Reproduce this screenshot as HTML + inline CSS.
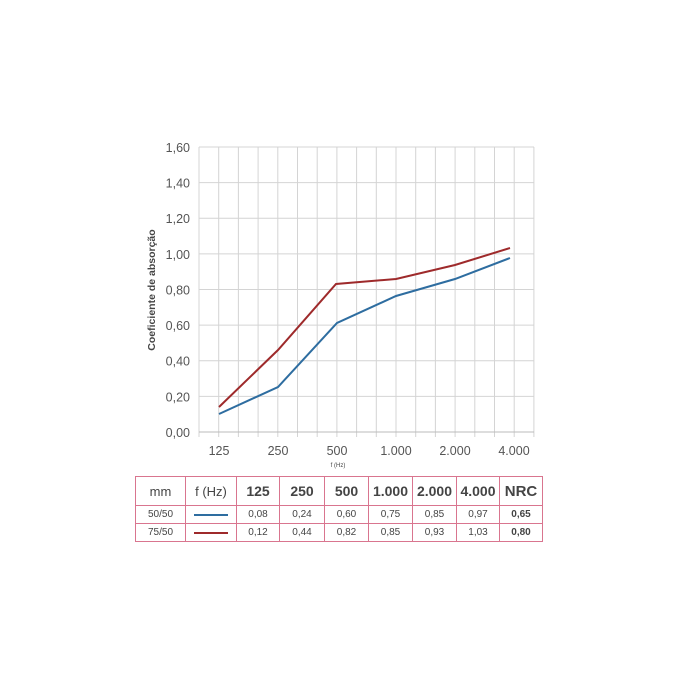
<!DOCTYPE html>
<html><head><meta charset="utf-8"><style>
body{margin:0;background:#fff;width:680px;height:680px;overflow:hidden;font-family:"Liberation Sans",sans-serif}
table{position:absolute;left:135px;top:476px;border-collapse:collapse;color:#444;font-size:10px;table-layout:fixed}
td{border:1px solid #d9758f;text-align:center;padding:0}
tr.h td{height:28px;font-size:13px}
tr.h td.b{font-weight:bold;font-size:14px}
tr.r td{height:17px}
</style></head><body>
<svg width="680" height="470" style="position:absolute;left:0;top:0" font-family="Liberation Sans, sans-serif">
<g stroke="#d4d4d4" stroke-width="1">
<line x1="199" y1="147" x2="534" y2="147"/><line x1="199" y1="182.6" x2="534" y2="182.6"/><line x1="199" y1="218.2" x2="534" y2="218.2"/><line x1="199" y1="253.9" x2="534" y2="253.9"/><line x1="199" y1="289.5" x2="534" y2="289.5"/><line x1="199" y1="325.1" x2="534" y2="325.1"/><line x1="199" y1="360.7" x2="534" y2="360.7"/><line x1="199" y1="396.4" x2="534" y2="396.4"/>
</g>
<g id="v" stroke="#d4d4d4"></g>
<line x1="199" y1="432" x2="534" y2="432" stroke="#bbb"/>
<g fill="#555" font-size="12.5" text-anchor="end">
<text x="190" y="152">1,60</text><text x="190" y="187.6">1,40</text><text x="190" y="223.2">1,20</text><text x="190" y="258.9">1,00</text><text x="190" y="294.5">0,80</text><text x="190" y="330.1">0,60</text><text x="190" y="365.7">0,40</text><text x="190" y="401.4">0,20</text><text x="190" y="437">0,00</text>
</g>
<g fill="#555" font-size="12.5" text-anchor="middle">
<text x="219" y="455">125</text><text x="278" y="455">250</text><text x="337" y="455">500</text><text x="396" y="455">1.000</text><text x="455" y="455">2.000</text><text x="514" y="455">4.000</text>
</g>
<text x="338" y="467" font-size="6" fill="#444" text-anchor="middle">f (Hz)</text>
<text transform="translate(155,290) rotate(-90)" font-size="10.5" font-weight="bold" fill="#444" text-anchor="middle">Coeficiente de absorção</text>
<polyline points="219,414 278,387 337,323 396,296 455,279 510,258" fill="none" stroke="#2e6da0" stroke-width="2"/>
<polyline points="219,407 278,350 336,284 396,279 455,265 510,248" fill="none" stroke="#9e2a2b" stroke-width="2"/>
</svg>
<script>
var g=document.getElementById('v'),s='';
for(var i=0;i<18;i++){var x=199+i*19.7;s+='<line x1="'+x+'" y1="147" x2="'+x+'" y2="437"/>';}
g.innerHTML=s;
</script>
<table>
<colgroup><col style="width:50px"><col style="width:51px"><col style="width:43px"><col style="width:45px"><col style="width:44px"><col style="width:44px"><col style="width:44px"><col style="width:43px"><col style="width:43px"></colgroup>
<tr class="h"><td>mm</td><td>f (Hz)</td><td class="b">125</td><td class="b">250</td><td class="b">500</td><td class="b">1.000</td><td class="b">2.000</td><td class="b">4.000</td><td class="b" style="font-size:15px">NRC</td></tr>
<tr class="r"><td>50/50</td><td><div style="width:34px;height:2px;background:#2e6da0;margin:auto"></div></td><td>0,08</td><td>0,24</td><td>0,60</td><td>0,75</td><td>0,85</td><td>0,97</td><td><b>0,65</b></td></tr>
<tr class="r"><td>75/50</td><td><div style="width:34px;height:2px;background:#9e2a2b;margin:auto"></div></td><td>0,12</td><td>0,44</td><td>0,82</td><td>0,85</td><td>0,93</td><td>1,03</td><td><b>0,80</b></td></tr>
</table>
</body></html>
